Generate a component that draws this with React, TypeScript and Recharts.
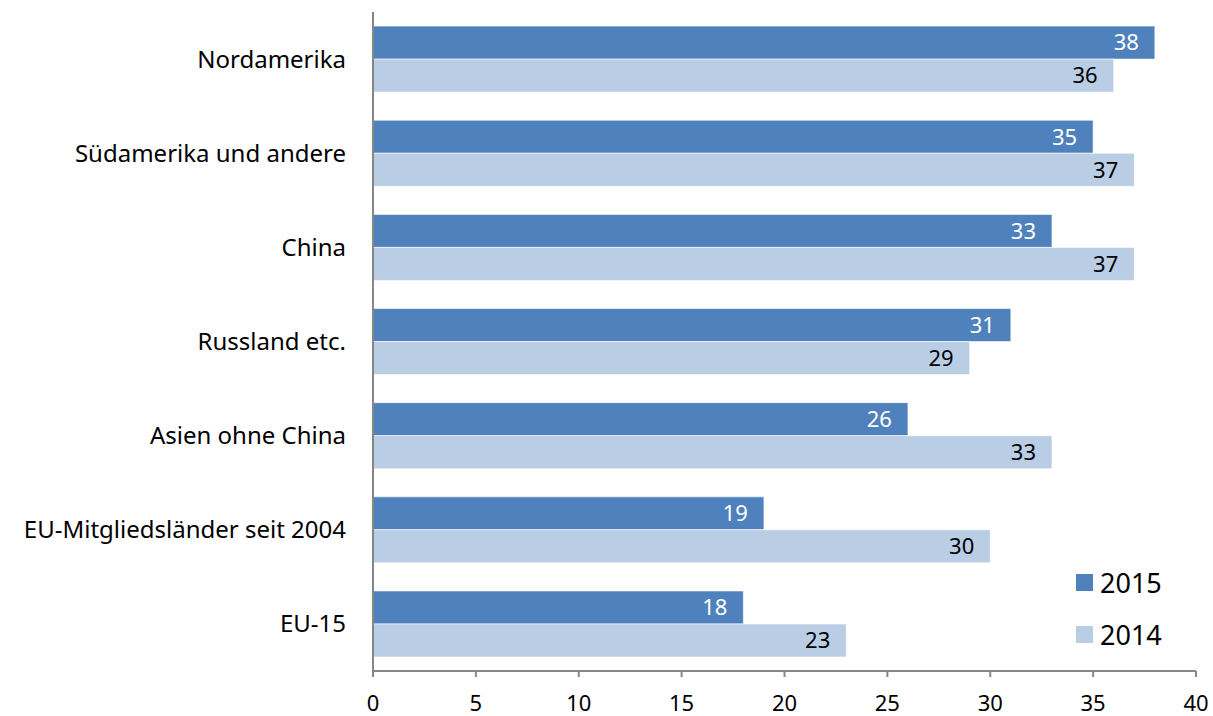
import { BarChart, Bar, XAxis, YAxis, Legend, LabelList } from 'recharts'

const regions = [
  'Nordamerika',
  'Südamerika und andere',
  'China',
  'Russland etc.',
  'Asien ohne China',
  'EU-Mitgliedsländer seit 2004',
  'EU-15',
]
const values2015 = [38, 35, 33, 31, 26, 19, 18]
const values2014 = [36, 37, 37, 29, 33, 30, 23]
const xTicks = [0, 5, 10, 15, 20, 25, 30, 35, 40]

const data = regions.map((region, i) => ({
  region,
  y2015: values2015[i],
  y2014: values2014[i],
}))

const FONT = '"Noto Sans", sans-serif'
const AXIS = '#868686'

function LegendBox({ payload }: any) {
  const items = [...(payload || [])].sort((a: any, b: any) =>
    String(b.value).localeCompare(String(a.value))
  )
  return (
    <div style={{ fontFamily: FONT }}>
      {items.map((p: any) => (
        <div key={p.value} style={{ display: 'flex', alignItems: 'center', height: 52 }}>
          <span style={{ width: 17, height: 17, background: p.color, marginRight: 7 }} />
          <span style={{ fontSize: 27, color: '#000' }}>{p.value}</span>
        </div>
      ))}
    </div>
  )
}

export default function App() {
  return (
    <div style={{ position: 'absolute', left: 0, top: 0, background: '#fff' }}>
      <BarChart
        width={1213}
        height={716}
        data={data}
        layout="vertical"
        margin={{ top: 12, right: 17, left: 0, bottom: 0 }}
        barCategoryGap="15%"
        barGap={0}
      >
        <XAxis
          type="number"
          domain={[0, 40]}
          ticks={xTicks}
          height={45}
          stroke={AXIS}
          strokeWidth={2}
          tickSize={6}
          tickMargin={18}
          tick={{ fontSize: 22, fill: '#000', fontFamily: FONT }}
        />
        <YAxis
          type="category"
          dataKey="region"
          width={373}
          stroke={AXIS}
          strokeWidth={2}
          tickLine={false}
          tickSize={0}
          tickMargin={27}
          tick={{ fontSize: 24, fill: '#000', fontFamily: FONT }}
        />
        <Legend
          layout="vertical"
          verticalAlign="middle"
          align="center"
          content={<LegendBox />}
          wrapperStyle={{ left: 1076, top: 556, width: 120 }}
        />
        <Bar dataKey="y2015" name="2015" fill="#4F81BD" stroke="#fff" strokeWidth={0.6} isAnimationActive={false}>
          <LabelList
            dataKey="y2015"
            position="insideRight"
            offset={16}
            fill="#fff"
            style={{ fontSize: 22, fontFamily: FONT }}
          />
        </Bar>
        <Bar dataKey="y2014" name="2014" fill="#B9CDE5" stroke="#fff" strokeWidth={0.6} isAnimationActive={false}>
          <LabelList
            dataKey="y2014"
            position="insideRight"
            offset={16}
            fill="#000"
            style={{ fontSize: 22, fontFamily: FONT }}
          />
        </Bar>
      </BarChart>
    </div>
  )
}
